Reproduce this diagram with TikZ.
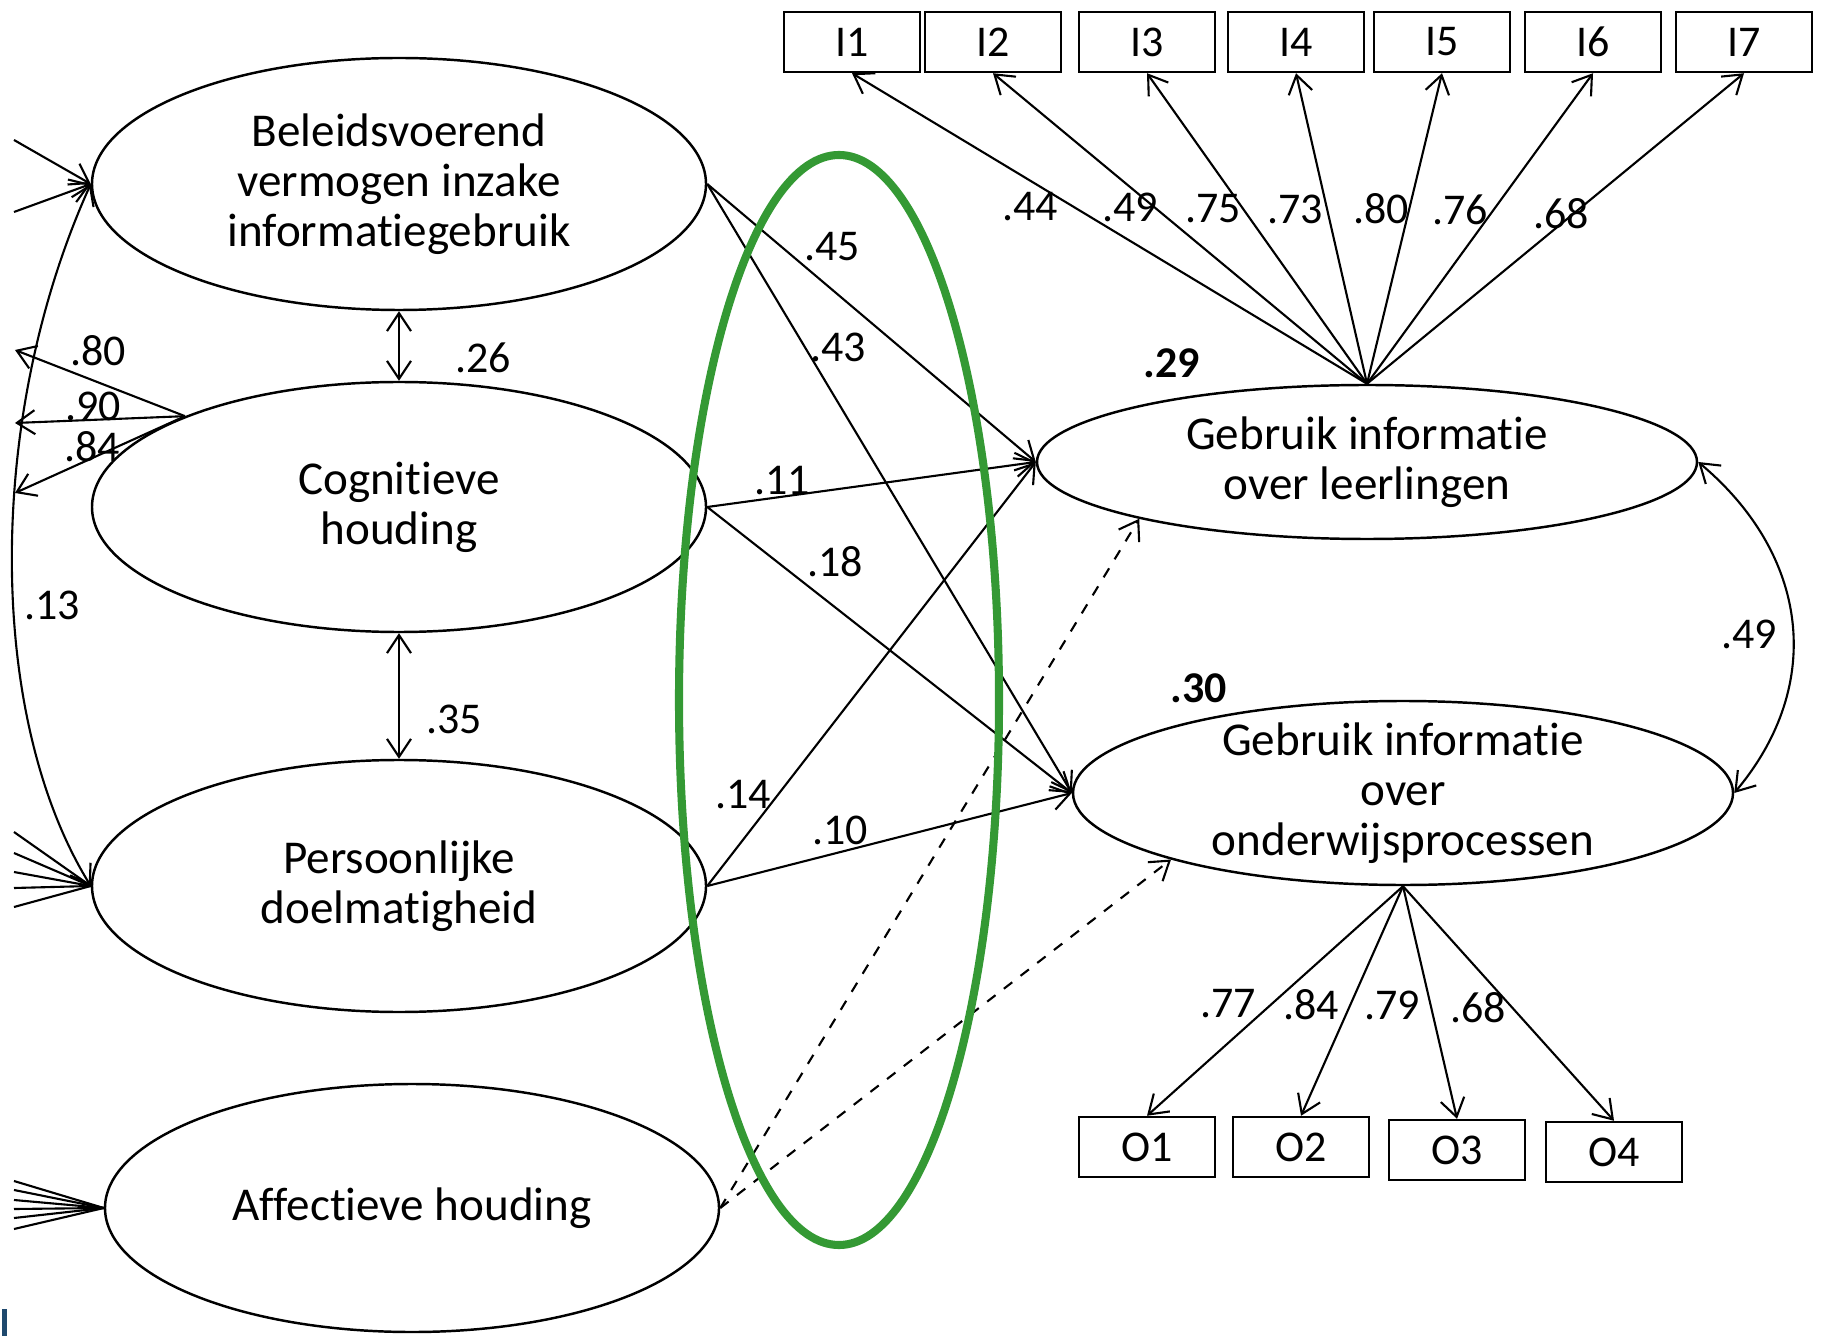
\documentclass[tikz,border=0pt]{standalone}
\usepackage{fontspec}
\setmainfont{Carlito}[Ligatures=NoCommon]
\usetikzlibrary{arrows.meta,shapes.geometric}

\definecolor{markgreen}{RGB}{52,153,52}
\definecolor{slideblue}{RGB}{31,73,110}

\tikzset{
  latent/.style={ellipse, draw, line width=0.7pt, inner sep=0pt, align=center,
    font=\fontsize{13.4}{14.2}\selectfont},
  observed/.style={rectangle, draw, line width=0.7pt, minimum width=1.36cm,
    minimum height=0.60cm, font=\fontsize{12.5}{14}\selectfont},
  effect/.style={line width=0.6pt, -{Straight Barb[length=1.8mm,width=2.4mm]}},
  cov/.style={line width=0.6pt,
    {Straight Barb[length=1.8mm,width=2.4mm]}-{Straight Barb[length=1.8mm,width=2.4mm]}},
  coef/.style={inner sep=0pt, font=\fontsize{12.5}{14}\selectfont},
}

\begin{document}
\begin{tikzpicture}
\useasboundingbox (0,0) rectangle (18.25,13.36);

% Predictors
\node[latent, minimum width=6.14cm, minimum height=2.52cm] (B) at (3.99,11.52) {Beleidsvoerend\\vermogen inzake\\informatiegebruik};
\node[latent, minimum width=6.14cm, minimum height=2.50cm] (C) at (3.99,8.29) {Cognitieve\\houding};
\node[latent, minimum width=6.14cm, minimum height=2.52cm] (P) at (3.99,4.50) {Persoonlijke\\doelmatigheid};
\node[latent, minimum width=6.14cm, minimum height=2.48cm] (A) at (4.12,1.28) {Affectieve houding};

% Outcomes
\node[latent, minimum width=6.60cm, minimum height=1.54cm] (GL) at (13.67,8.74) {Gebruik informatie\\over leerlingen};
\node[latent, minimum width=6.60cm, minimum height=1.84cm, inner ysep=-3pt] (GO) at (14.03,5.43) {Gebruik informatie\\over\\onderwijsprocessen};

% Indicators
\foreach \name/\x in {I1/8.52, I2/9.93, I3/11.47, I4/12.96, I5/14.42, I6/15.93, I7/17.44}
  \node[observed] (\name) at (\x,12.94) {\name};
\foreach \name/\x/\y in {O1/11.47/1.89, O2/13.01/1.89, O3/14.57/1.86, O4/16.14/1.84}
  \node[observed] (\name) at (\x,\y) {\name};

\foreach \i in {1,...,7}
  \draw[effect] (GL.north) -- (I\i.south);
\foreach \i in {1,...,4}
  \draw[effect] (GO.south) -- (O\i.north);

% Structural paths
\foreach \s in {B,C,P} {
  \draw[effect] (\s.east) -- (GL.west);
  \draw[effect] (\s.east) -- (GO.west);
}
\draw[effect, dashed] (A.east) -- (GL.194);
\draw[effect, dashed] (A.east) -- (GO.196);

% Covariances
\draw[cov] (B.south) -- (C.north);
\draw[cov] (C.south) -- (P.north);
\draw[cov] (B.west) .. controls (-0.14,9.2) and (-0.14,6.2) .. (P.west);
\draw[cov] (GL.east) to[out=-40, in=50, looseness=1.1] (GO.east);

% Cut off at the left edge
\coordinate (c1) at (0.15,9.86);
\coordinate (c2) at (0.15,9.13);
\coordinate (c3) at (0.15,8.43);
\foreach \k in {1,2,3}
  \draw[effect] (C.157) -- (c\k);
\foreach \y [count=\k] in {11.96,11.24} {
  \coordinate (b\k) at (0.14,\y);
  \draw[effect] (b\k) -- (B.west);
}
\foreach \y [count=\k] in {5.04,4.83,4.64,4.48,4.29} {
  \coordinate (p\k) at (0.14,\y);
  \draw[line width=0.6pt] (p\k) -- (P.west);
}
\foreach \y [count=\k] in {1.55,1.46,1.36,1.27,1.18,1.07} {
  \coordinate (a\k) at (0.14,\y);
  \draw[line width=0.6pt] (a\k) -- (A.west);
}

% Coefficients
\foreach \v/\x/\y in {.44/10.30/11.29, .49/11.30/11.29, .75/12.13/11.27, .73/12.95/11.27,
    .80/13.81/11.27, .76/14.60/11.26, .68/15.61/11.22}
  \node[coef] at (\x,\y) {\v};
\foreach \v/\x/\y in {.77/12.28/3.32, .84/13.11/3.31, .79/13.92/3.31, .68/14.78/3.28}
  \node[coef] at (\x,\y) {\v};
\node[coef] at (8.32,10.89) {.45};
\node[coef] at (8.38,9.89) {.43};
\node[coef] at (7.82,8.55) {.11};
\node[coef] at (8.35,7.74) {.18};
\node[coef] at (7.43,5.41) {.14};
\node[coef] at (8.40,5.06) {.10};
\node[coef] at (4.83,9.78) {.26};
\node[coef] at (4.54,6.17) {.35};
\node[coef] at (0.98,9.85) {.80};
\node[coef] at (0.93,9.30) {.90};
\node[coef] at (0.92,8.89) {.84};
\node[coef] at (0.52,7.31) {.13};
\node[coef] at (17.49,7.02) {.49};
\node[coef, font=\fontsize{12.5}{14}\selectfont\bfseries] at (11.72,9.73) {.29};
\node[coef, font=\fontsize{12.5}{14}\selectfont\bfseries] at (11.99,6.48) {.30};

% Highlight
\node[ellipse, draw=markgreen, line width=2.3pt, minimum width=3.2cm, minimum height=10.9cm] (focus) at (8.39,6.36) {};

\fill[slideblue] (0.02,0) rectangle (0.07,0.27);

\end{tikzpicture}
\end{document}
